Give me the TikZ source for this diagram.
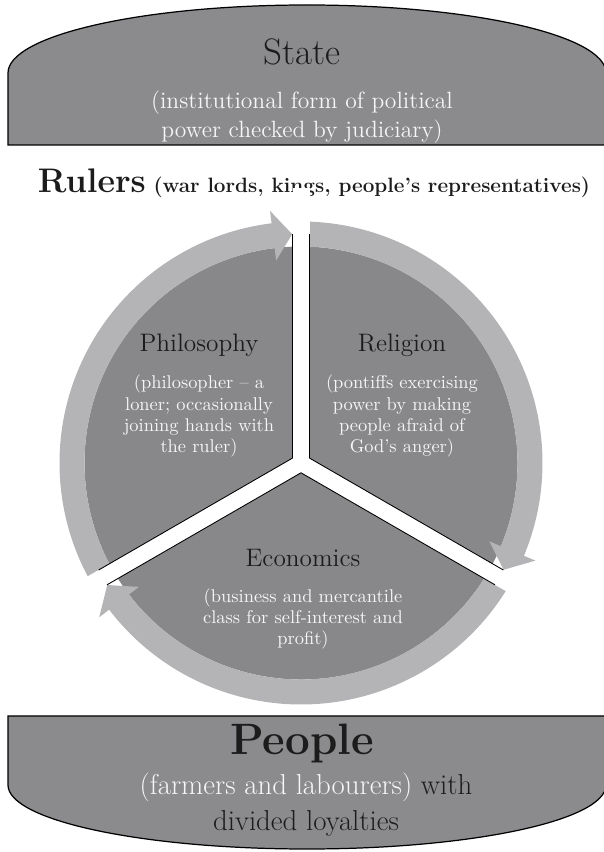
\documentclass[tikz,border=0pt]{standalone}
\usepackage{tikz}
\usetikzlibrary{positioning}
\definecolor{boxgray}{RGB}{139,139,141}
\definecolor{sectorgray}{RGB}{136,136,138}
\definecolor{ringgray}{RGB}{180,180,182}
\definecolor{darktext}{RGB}{28,28,28}
\definecolor{paletext}{RGB}{246,246,246}
\tikzset{
    bandbox/.style={fill=boxgray, draw=black, line width=0.7pt},
    sector/.style={fill=sectorgray},
    sectoredge/.style={draw=black, line width=0.5pt},
    ringarrow/.style={fill=ringgray},
    gapline/.style={draw=white, line width=0.34cm},
    title/.style={text=darktext, inner sep=0pt, anchor=base, align=center},
    remark/.style={text=paletext, inner sep=0pt, anchor=base, align=center,
        font=\fontsize{10.5}{12.2}\selectfont},
}

\begin{document}
\begin{tikzpicture}[x=0.02cm, y=0.02cm]
    \def \Ro {241.5}
    \def \Rs {216.5}
    \useasboundingbox (0,0) rectangle (604,852);
    % top and bottom bands
    \draw[bandbox] (8,707) -- (8,779) arc[start angle=180, end angle=0, x radius=299, y radius=68] -- (606,707) -- cycle;
    \draw[bandbox] (8,136) -- (8,67) arc[start angle=180, end angle=360, x radius=299, y radius=64] -- (606,136) -- cycle;
    \node[title, font=\fontsize{21}{25}\selectfont] (state) at (302,787) {State};
    % multi-line nodes sit on their last line
    \node[remark, font=\fontsize{13.4}{17}\selectfont] (statenote) at (302,714) {(institutional form of political\\power checked by judiciary)};
    \node[title, font=\fontsize{11.8}{14}\selectfont\bfseries] (rulers) at (314,659) {{\fontsize{19.4}{22}\selectfont Rulers} (war lords, kings, people's representatives)};
    \node[title, font=\fontsize{25}{30}\selectfont\bfseries] (people) at (302,97) {People};
    \node[title, font=\fontsize{16.4}{20.5}\selectfont] (peoplenote) at (306,21) {{\color{paletext}(farmers and labourers)} with\\divided loyalties};
    % the wheel
    \begin{scope}[shift={(301,389)}]
    \fill[sector] (0,0) -- (90:\Rs) arc[start angle=90, end angle=210, radius=\Rs] -- cycle;
    \fill[sector] (0,0) -- (-30:\Rs) arc[start angle=-30, end angle=90, radius=\Rs] -- cycle;
    \fill[sector] (0,0) -- (210:\Rs) arc[start angle=210, end angle=330, radius=\Rs] -- cycle;
    \fill[ringarrow] (210:\Ro) arc[start angle=210, end angle=97, radius=\Ro] -- (97:254) -- (92.2:229) -- (97:204) -- (97:\Rs) arc[start angle=97, end angle=210, radius=\Rs] -- cycle;
    \fill[ringarrow] (90:\Ro) arc[start angle=90, end angle=-22.6, radius=\Ro] -- (-22.6:254) -- (-27.8:229) -- (-22.6:204) -- (-22.6:\Rs) arc[start angle=-22.6, end angle=90, radius=\Rs] -- cycle;
    \fill[ringarrow] (-30:\Ro) arc[start angle=-30, end angle=-142.6, radius=\Ro] -- (-142.6:254) -- (-147.8:229) -- (-142.6:204) -- (-142.6:\Rs) arc[start angle=-142.6, end angle=-30, radius=\Rs] -- cycle;
    \foreach \a in {90,210,330}
        \draw[gapline] (0,0) -- (\a:275);
    \draw[sectoredge] (92.13:229) -- (150:9.81) -- (207.87:229);
    \draw[sectoredge] (87.87:229) -- (30:9.81) -- (-27.87:229);
    \draw[sectoredge] (212.13:229) -- (270:9.81) -- (-32.13:229);
    \end{scope}
    \node[title, font=\fontsize{14.4}{17}\selectfont] (philo) at (199,500) {Philosophy};
    \node[remark] (philonote) at (199,399) {(philosopher -- a\\loner; occasionally\\joining hands with\\the ruler)};
    \node[title, font=\fontsize{14.4}{17}\selectfont] (relig) at (402,500) {Religion};
    \node[remark] (relignote) at (402,399) {(pontiffs exercising\\power by making\\people afraid of\\God's anger)};
    \node[title, font=\fontsize{14.4}{17}\selectfont] (econ) at (303,285) {Economics};
    \node[remark] (econnote) at (303,207) {(business and mercantile\\class for self-interest and\\profit)};
\end{tikzpicture}
\end{document}
